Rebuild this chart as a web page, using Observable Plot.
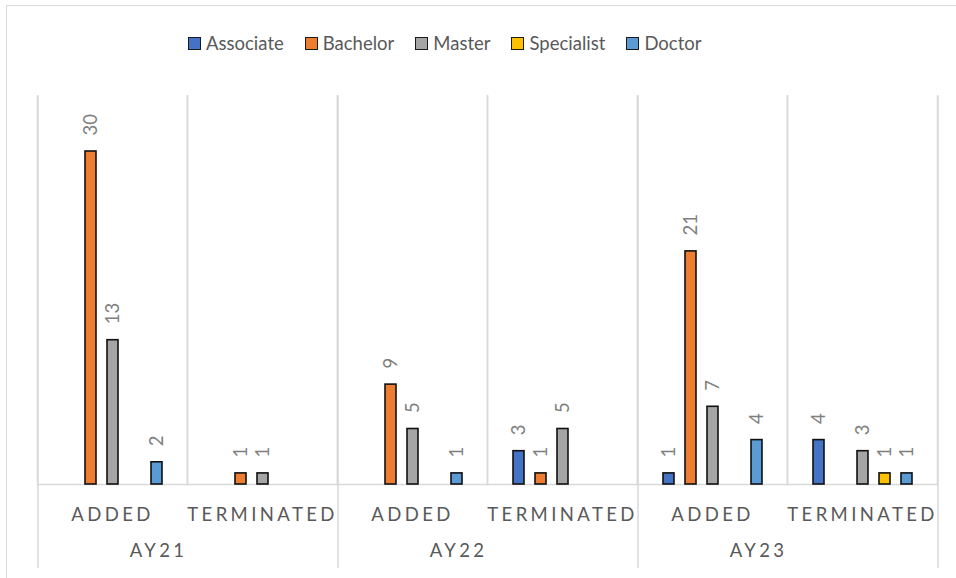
<!DOCTYPE html>
<html>
<head>
<meta charset="utf-8">
<script src="https://cdn.jsdelivr.net/npm/d3@7"></script>
<script src="https://cdn.jsdelivr.net/npm/@observablehq/plot@0.6"></script>
<style>
  body { margin: 0; background: #fff; }
  #wrap { position: relative; width: 956px; height: 578px; overflow: hidden; background: #fff; font-family: Lato, "Open Sans", sans-serif; }
  #border { position: absolute; left: 6px; top: 5px; width: 1200px; height: 1200px; border: 1.5px solid #d9d9d9; box-sizing: border-box; }
  #legend { position: absolute; left: 188px; top: 0; height: 86px; display: flex; align-items: center; gap: 21px; color: #595959; font-size: 18.5px; }
  .item { display: flex; align-items: center; gap: 5px; white-space: nowrap; }
  .sw { width: 13px; height: 13px; box-sizing: border-box; border: 1.6px solid #1a1a1a; }
  #chart { position: absolute; left: 0; top: 80px; }
  #chart g[aria-label^="fx-axis"] text, #chart g[aria-description="year-label"] text { letter-spacing: 3.4px; }
</style>
</head>
<body>
<div id="wrap">
  <div id="border"></div>
  <div id="legend"></div>
  <div id="chart"></div>
</div>
<script>
const years = ["AY21", "AY22", "AY23"];
const subs = ["ADDED", "TERMINATED"];
const seriesNames = ["Associate", "Bachelor", "Master", "Specialist", "Doctor"];
const seriesColors = ["#4472C4", "#ED7D31", "#A5A5A5", "#FFC000", "#5B9BD5"];
// values per category: AY21 ADDED, AY21 TERMINATED, AY22 ADDED, AY22 TERMINATED, AY23 ADDED, AY23 TERMINATED
const associate  = [null, null, null, 3, 1, 4];
const bachelor   = [30, 1, 9, 1, 21, null];
const master     = [13, 1, 5, 5, 7, 3];
const specialist = [null, null, null, null, null, 1];
const doctor     = [2, null, 1, null, 4, 1];
const seriesValues = [associate, bachelor, master, specialist, doctor];

const keys = years.flatMap(y => subs.map(s => y + "|" + s));
const rows = [];
keys.forEach((k, i) => seriesNames.forEach((s, j) => {
  const v = seriesValues[j][i];
  if (v != null) rows.push({key: k, series: s, value: v});
}));
const groupLabels = years.map(y => ({key: y + "|" + subs[0], label: y}));
const leftLines = years.map(y => ({key: y + "|" + subs[0], s: seriesNames[0]}));
const rightLines = [{key: years[years.length - 1] + "|" + subs[1], s: seriesNames[seriesNames.length - 1]}];

// legend
const legend = document.getElementById("legend");
seriesNames.forEach((s, i) => {
  const it = document.createElement("div");
  it.className = "item";
  const sw = document.createElement("span");
  sw.className = "sw";
  sw.style.background = seriesColors[i];
  const t = document.createElement("span");
  t.textContent = s;
  it.append(sw, t);
  legend.append(it);
});

const grid = {stroke: "#d9d9d9", strokeWidth: 1.5};
const chart = Plot.plot({
  width: 956,
  height: 498,
  marginTop: 15.5,
  marginBottom: 94,
  marginLeft: 37,
  marginRight: 19,
  style: {fontFamily: "Lato, 'Open Sans', sans-serif", fontSize: "18.5px", color: "#595959", background: "transparent"},
  fx: {domain: keys, padding: 0, axis: "bottom", tickSize: 0, tickPadding: 23, tickFormat: d => d.split("|")[1], label: null},
  x: {domain: seriesNames, paddingInner: 0.5, paddingOuter: 1.159, axis: null},
  y: {domain: [0, 35], axis: null},
  color: {domain: seriesNames, range: seriesColors},
  marks: [
    Plot.frame({anchor: "left", ...grid}),
    Plot.frame({anchor: "right", ...grid}),
    Plot.ruleX(leftLines, {fx: "key", x: "s", dx: -31, insetBottom: -84, ...grid}),
    Plot.ruleX(rightLines, {fx: "key", x: "s", dx: 31, insetBottom: -84, ...grid}),
    Plot.ruleY([0], grid),
    Plot.barY(rows, {fx: "key", x: "series", y: "value", fill: "series", stroke: "#111", strokeWidth: 1.6}),
    Plot.text(rows, {fx: "key", x: "series", y: "value", text: d => String(d.value), rotate: -90, textAnchor: "start", dy: -16, fill: "#7f7f7f", fontSize: 18.5}),
    Plot.text(groupLabels, {fx: "key", text: "label", frameAnchor: "bottom-right", dy: 72, fill: "#595959", fontSize: 18.5, ariaDescription: "year-label"})
  ]
});
document.getElementById("chart").append(chart);
</script>
</body>
</html>
